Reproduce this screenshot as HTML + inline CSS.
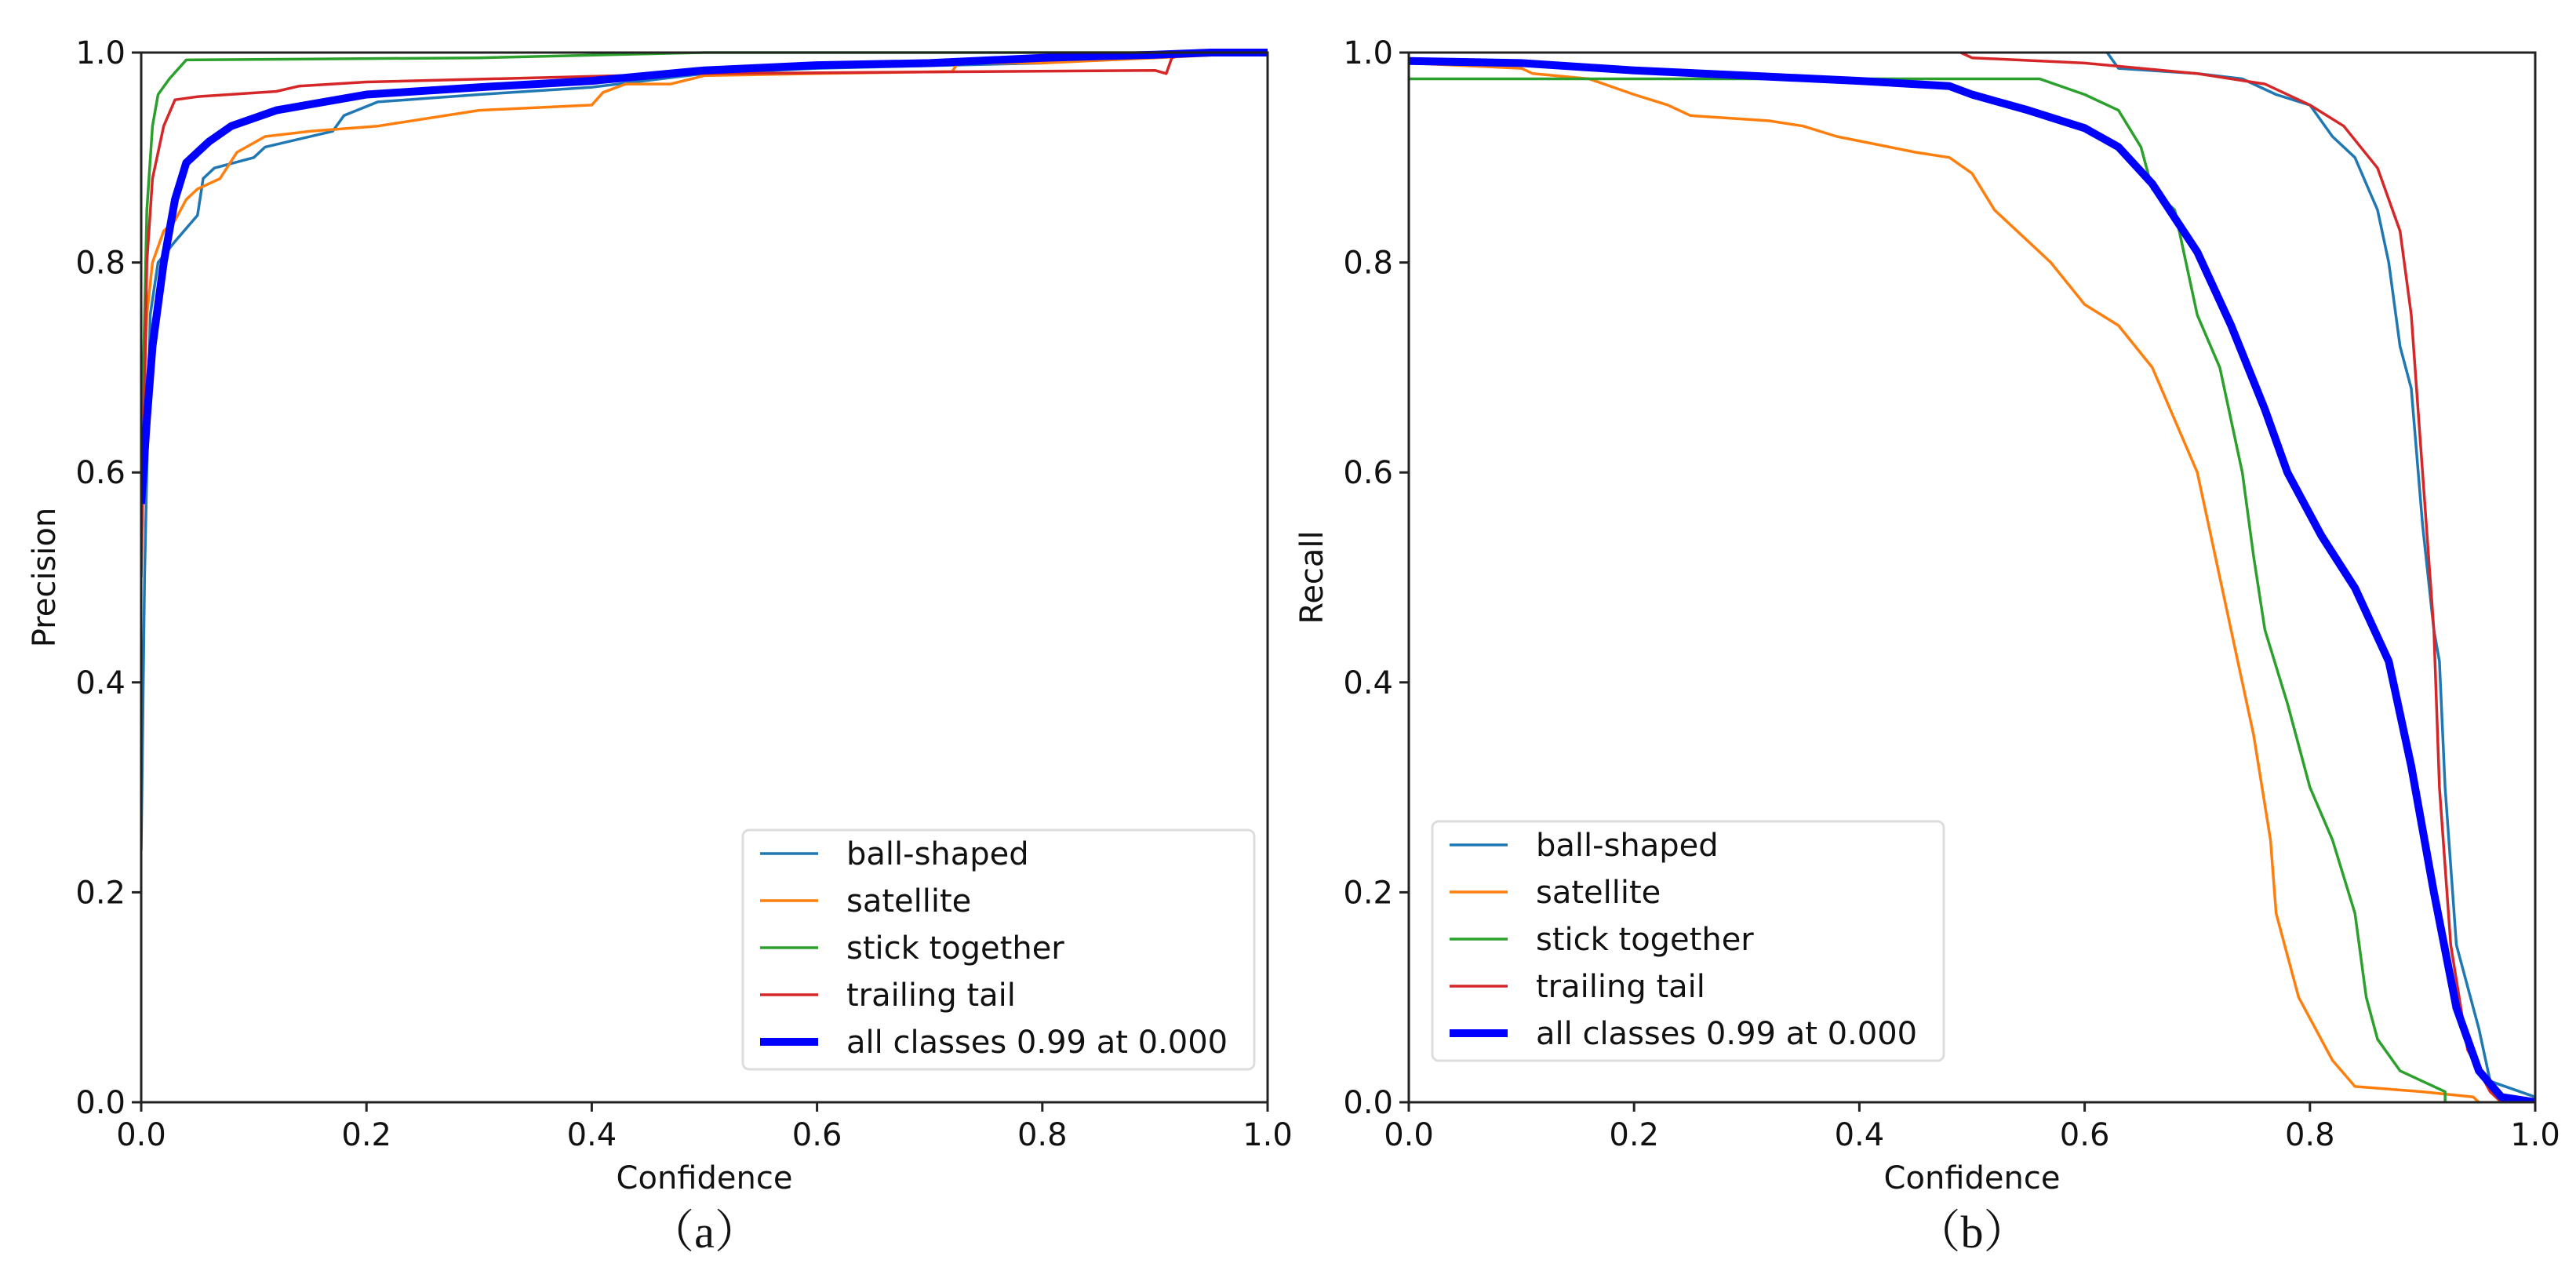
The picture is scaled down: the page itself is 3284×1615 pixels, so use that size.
<!DOCTYPE html>
<html><head><meta charset="utf-8"><style>
body{margin:0;background:#fff;}
svg{display:block;font-family:"DejaVu Sans","Liberation Sans",sans-serif;}
</style></head><body>
<svg id="fig" width="3284" height="1615" viewBox="0 0 3284 1615" xmlns="http://www.w3.org/2000/svg"></svg>
<script>
const xTicks=[0,0.2,0.4,0.6,0.8,1.0];
const yTicks=[0,0.2,0.4,0.6,0.8,1.0];
const tickLabels=["0.0","0.2","0.4","0.6","0.8","1.0"];
const seriesNames=["ball-shaped","satellite","stick together","trailing tail","all classes 0.99 at 0.000"];
// Precision panel (a)
const pBallX=[0,0.003,0.008,0.015,0.03,0.05,0.055,0.065,0.1,0.11,0.17,0.18,0.21,0.3,0.4,0.5,0.6,0.8,0.9,1];
const pBallY=[0.24,0.5,0.75,0.8,0.82,0.845,0.88,0.89,0.9,0.91,0.925,0.94,0.953,0.96,0.967,0.98,0.985,0.99,0.998,1];
const pSatX=[0,0.005,0.01,0.02,0.03,0.04,0.05,0.07,0.085,0.11,0.15,0.21,0.3,0.4,0.41,0.43,0.47,0.5,0.6,0.72,0.725,0.8,0.9,1];
const pSatY=[0.6,0.75,0.8,0.83,0.84,0.86,0.87,0.88,0.905,0.92,0.925,0.93,0.945,0.95,0.962,0.97,0.97,0.978,0.98,0.982,0.99,0.99,0.995,1];
const pStickX=[0,0.005,0.01,0.015,0.025,0.04,0.3,0.5,1];
const pStickY=[0.6,0.85,0.93,0.96,0.975,0.993,0.995,1,1];
const pTrailX=[0,0.005,0.01,0.02,0.03,0.05,0.12,0.14,0.2,0.5,0.9,0.91,0.915,0.93,1];
const pTrailY=[0.5,0.8,0.88,0.93,0.955,0.958,0.963,0.968,0.972,0.98,0.983,0.98,0.995,1,1];
const pAllX=[0,0.005,0.01,0.02,0.03,0.04,0.06,0.08,0.12,0.2,0.3,0.4,0.5,0.6,0.7,0.8,0.9,0.95,1];
const pAllY=[0.57,0.65,0.72,0.8,0.86,0.895,0.915,0.93,0.945,0.96,0.967,0.973,0.983,0.988,0.99,0.995,0.998,1,1];
// Recall panel (b)
const rBallX=[0.62,0.63,0.7,0.74,0.77,0.8,0.82,0.84,0.86,0.87,0.88,0.89,0.9,0.91,0.915,0.92,0.93,0.95,0.96,1];
const rBallY=[1.0,0.985,0.98,0.975,0.96,0.95,0.92,0.9,0.85,0.8,0.72,0.68,0.55,0.45,0.42,0.3,0.15,0.07,0.02,0.005];
const rSatX=[0,0.1,0.11,0.16,0.2,0.23,0.25,0.32,0.35,0.38,0.45,0.48,0.5,0.52,0.55,0.57,0.6,0.63,0.66,0.68,0.7,0.71,0.72,0.74,0.75,0.765,0.77,0.79,0.82,0.84,0.9,0.945,0.95];
const rSatY=[0.99,0.985,0.98,0.975,0.96,0.95,0.94,0.935,0.93,0.92,0.905,0.9,0.885,0.85,0.82,0.8,0.76,0.74,0.7,0.65,0.6,0.55,0.5,0.4,0.35,0.25,0.18,0.1,0.04,0.015,0.01,0.005,0];
const rStickX=[0,0.56,0.6,0.63,0.65,0.66,0.68,0.69,0.7,0.72,0.74,0.75,0.76,0.78,0.8,0.82,0.84,0.85,0.86,0.88,0.92,0.92];
const rStickY=[0.975,0.975,0.96,0.945,0.91,0.87,0.85,0.8,0.75,0.7,0.6,0.52,0.45,0.38,0.3,0.25,0.18,0.1,0.06,0.03,0.01,0];
const rTrailX=[0.49,0.5,0.6,0.7,0.76,0.8,0.83,0.86,0.88,0.89,0.9,0.91,0.915,0.925,0.94,0.96,0.97];
const rTrailY=[1.0,0.995,0.99,0.98,0.97,0.95,0.93,0.89,0.83,0.75,0.6,0.45,0.3,0.15,0.05,0.01,0];
const rAllX=[0,0.1,0.2,0.3,0.4,0.48,0.5,0.55,0.6,0.63,0.66,0.7,0.73,0.76,0.78,0.81,0.84,0.87,0.89,0.91,0.93,0.95,0.97,1];
const rAllY=[0.992,0.99,0.983,0.978,0.973,0.968,0.96,0.945,0.928,0.91,0.875,0.81,0.74,0.66,0.6,0.54,0.49,0.42,0.32,0.2,0.09,0.03,0.005,0];

const colors=["#1f77b4","#ff7f0e","#2ca02c","#d62728","#0000ff"];
const widths=[3.5,3.5,3.5,3.5,10];
const NS="http://www.w3.org/2000/svg";
const svg=document.getElementById('fig');
function mk(tag,attrs,parent){const e=document.createElementNS(NS,tag);for(const k in attrs)e.setAttribute(k,attrs[k]);(parent||svg).appendChild(e);return e;}

function panel(x0,label,yTitle,series,legX,legY,key){
  const x1=x0+1436,yTop=67,yBot=1405;
  const sx=v=>x0+v*(x1-x0), sy=v=>yBot-v*(yBot-yTop);
  const g=mk('g',{});
  
  
  const clipId='clip'+key;
  const cp=mk('clipPath',{id:clipId},g);mk('rect',{x:x0,y:yTop-6,width:x1-x0+6,height:yBot-yTop+6},cp);
  const lines=mk('g',{'clip-path':'url(#'+clipId+')'},g);
  series.forEach((s,i)=>{
    const d=s[0].map((x,j)=>(j?'L':'M')+sx(x).toFixed(1)+' '+sy(s[1][j]).toFixed(1)).join(' ');
    const p=mk('path',{d:d,fill:'none',stroke:colors[i],'stroke-width':widths[i],'stroke-linejoin':'round'},lines);
    
    
  });
  const fr=mk('rect',{x:x0,y:yTop,width:x1-x0,height:yBot-yTop,fill:'none',stroke:'#222','stroke-width':3},g);
  
  
  xTicks.forEach((t,i)=>{
    mk('line',{x1:sx(t),x2:sx(t),y1:yBot,y2:yBot+12,stroke:'#222','stroke-width':3},g);
    const tx=mk('text',{x:sx(t),y:yBot+55,'font-size':40,'text-anchor':'middle',fill:'#111'},g);tx.textContent=tickLabels[i];
    
    
  });
  yTicks.forEach((t,i)=>{
    mk('line',{x1:x0-12,x2:x0,y1:sy(t),y2:sy(t),stroke:'#222','stroke-width':3},g);
    const tx=mk('text',{x:x0-20,y:sy(t)+14,'font-size':40,'text-anchor':'end',fill:'#111'},g);tx.textContent=tickLabels[i];
    
    
  });
  const xt=mk('text',{x:(x0+x1)/2,y:1515,'font-size':40,'text-anchor':'middle',fill:'#111'},g);xt.textContent='Confidence';
  
  
  const yt=mk('text',{x:0,y:0,'font-size':40,'text-anchor':'middle',fill:'#111',transform:`translate(${x0-110},${(yTop+yBot)/2}) rotate(-90)`},g);yt.textContent=yTitle;
  
  
  const cap=mk('text',{x:(x0+x1)/2,y:1590,'font-size':58,'text-anchor':'middle',fill:'#111','font-family':'"Liberation Serif","Noto Serif CJK SC",serif'},g);cap.textContent='（'+label+'）';
  
  
  const lg=mk('g',{},g);
  
  
  mk('rect',{x:legX,y:legY,width:652,height:305,rx:8,fill:'#fff',stroke:'#ddd','stroke-width':3},lg);
  seriesNames.forEach((n,i)=>{
    const yy=legY+30+i*60;
    mk('line',{x1:legX+22,x2:legX+96,y1:yy,y2:yy,stroke:colors[i],'stroke-width':widths[i]},lg);
    const t=mk('text',{x:legX+132,y:yy+14,'font-size':40,fill:'#111'},lg);t.textContent=n;
    
    
  });
}
panel(180,'a','Precision',[[pBallX,pBallY],[pSatX,pSatY],[pStickX,pStickY],[pTrailX,pTrailY],[pAllX,pAllY]],947,1058,'a');
panel(1796,'b','Recall',[[rBallX,rBallY],[rSatX,rSatY],[rStickX,rStickY],[rTrailX,rTrailY],[rAllX,rAllY]],1826,1047,'b');
</script>
</body></html>
